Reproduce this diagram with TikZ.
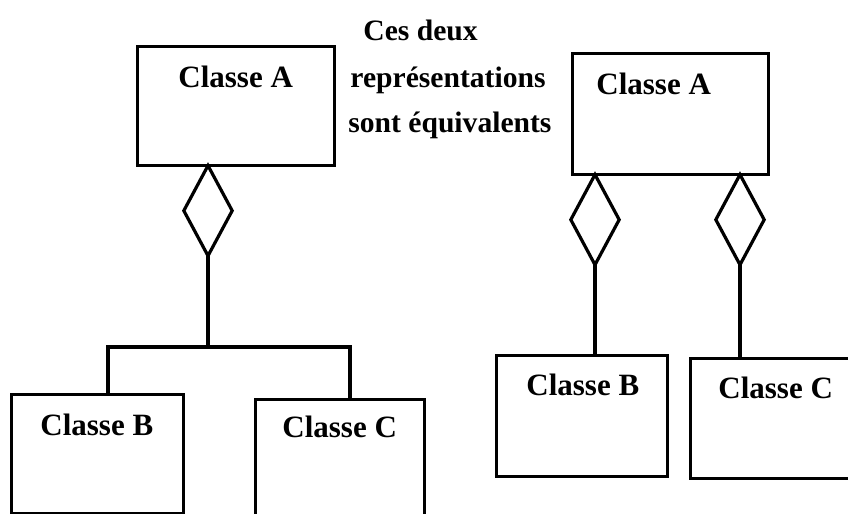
\documentclass[tikz,border=0pt]{standalone}
\usepackage{fontspec}
\setmainfont{Liberation Serif}
\usetikzlibrary{arrows.meta, positioning, calc}

\begin{document}
\begin{tikzpicture}[
    x=0.5pt, y=-0.5pt,
    font=\bfseries\fontsize{15.5}{18}\selectfont,
    classbox/.style={draw=black, line width=1.6pt, anchor=north west, inner sep=0pt},
    classname/.style={anchor=base west, inner sep=0pt},
    note/.style={anchor=base west, inner sep=0pt, font=\bfseries\fontsize{14.8}{18}\selectfont},
    link/.style={line width=1.6pt, draw=black},
    aggr/.style={link, shorten >=-2.5pt, -{Diamond[open, length=48.5pt, width=26pt]}}
]
\useasboundingbox (0,0) rectangle (848,514);
\clip (0,0) rectangle (848,514);

\node[classbox, minimum width=98.5pt, minimum height=59.5pt] (la) at (136,45) {};
\node[classbox, minimum width=86pt, minimum height=59.5pt] (lb) at (10,393) {};
\node[classbox, minimum width=84.5pt, minimum height=66pt] (lc) at (254,398) {};

\node[classbox, minimum width=98pt, minimum height=60.5pt] (ra) at (571,52) {};
\node[classbox, minimum width=85.5pt, minimum height=60.5pt] (rb) at (495,354) {};
\node[classbox, minimum width=92pt, minimum height=60pt] (rc) at (689,357) {};

\node[classname] (laname) at ($(la.north west)+(42,43)$) {Classe A};
\node[classname] (lbname) at ($(lb.north west)+(30,42)$) {Classe B};
\node[classname] (lcname) at ($(lc.north west)+(28,39)$) {Classe C};
\node[classname] (raname) at ($(ra.north west)+(25,42)$) {Classe A};
\node[classname] (rbname) at ($(rb.north west)+(31,41)$) {Classe B};
\node[classname] (rcname) at ($(rc.north west)+(29,41)$) {Classe C};

\node[note] (note1) at (363,40) {Ces deux};
\node[note] (note2) at (350,87) {représentations};
\node[note] (note3) at (348,133) {sont équivalents};

\coordinate (ljoin) at (208,347);
\draw[link] ([xshift=49pt]lb.north west) |- (ljoin) -| ([xshift=48pt]lc.north west);
\draw[aggr] (ljoin) -- (la.south -| ljoin);

\coordinate (rbtop) at ([xshift=50pt]rb.north west);
\coordinate (rctop) at ([xshift=25.5pt]rc.north west);
\draw[aggr] (rbtop) -- (rbtop |- ra.south);
\draw[aggr] (rctop) -- (rctop |- ra.south);
\end{tikzpicture}
\end{document}
